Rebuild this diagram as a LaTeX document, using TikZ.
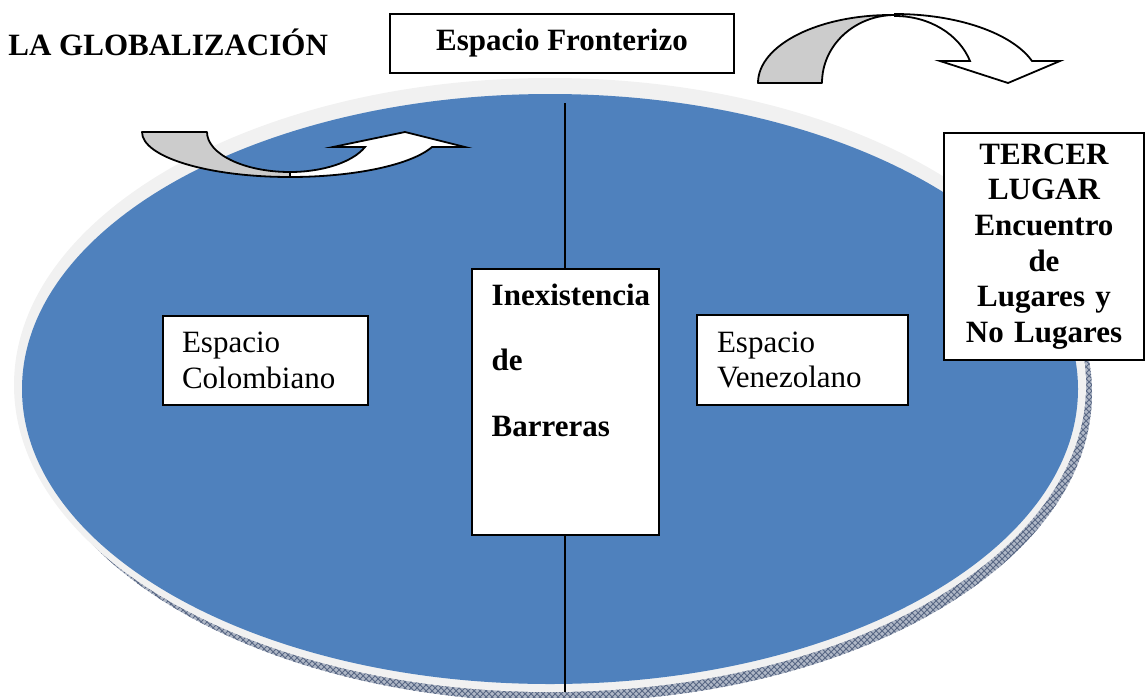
\documentclass[tikz,border=0pt]{standalone}
\usepackage{fontspec}
\setmainfont{Liberation Serif}
\usetikzlibrary{patterns}
\definecolor{discblue}{RGB}{79,129,189}
\definecolor{rimgray}{RGB}{241,241,241}
\definecolor{shadowgray}{RGB}{175,183,198}
\definecolor{hatchgray}{RGB}{88,103,132}
\definecolor{backgray}{RGB}{204,204,204}

\begin{document}
\begin{tikzpicture}[x=0.5pt, y=-0.5pt,
		box/.style={draw, line width=1pt, fill=white, inner sep=0pt},
		plain/.style={font=\fontsize{15.5}{17.8}\selectfont},
		bold/.style={font=\fontsize{15.5}{17.8}\selectfont\bfseries},
		bandback/.style={draw, line width=0.9pt, fill=backgray, line join=round},
		bandfront/.style={draw, line width=0.9pt, fill=white}]
		\useasboundingbox (0,0) rectangle (1146,697);
		% Draw disc.
		\fill[shadowgray] (558,393) ellipse [x radius=534, y radius=309];
		\fill[pattern=crosshatch, pattern color=hatchgray] (558,393) ellipse [x radius=534, y radius=309];
		\fill[rimgray] (550,385) ellipse [x radius=536, y radius=307];
		\fill[discblue] (550,389) ellipse [x radius=528, y radius=295];
		
		% Draw curved arrows.
		\draw[bandback] (142,132) -- (207,132) .. controls (207,154) and (244,172) .. (290,172) -- (290,177) .. controls (208,177) and (142,157) .. (142,132) -- cycle;
		\draw[bandfront] (290,177) .. controls (354,177) and (411,165) .. (432,147) -- (465,147) -- (405,132) -- (333,147) -- (365,147) .. controls (353,162) and (323,172) .. (290,172) -- cycle;
		\draw[bandback] (758,83) -- (822,83) .. controls (822,45) and (855,15) .. (895,15) .. controls (819,14) and (758,45) .. (758,83) -- cycle;
		\draw[bandfront] (895,14) .. controls (957,14) and (1012,33) .. (1032,61) -- (1060,61) -- (1008,83) -- (940,61) -- (970,61) .. controls (959,34) and (929,16) .. (895,16) -- cycle;
		
		% Draw border line.
		\coordinate (top) at (565,103);		\coordinate (bottom) at (565,692);
		\draw[line width=1pt] (top) -- (bottom);
		
		% Draw boxes.
		\node[bold, anchor=base west, inner sep=0pt] (titulo) at (8,55) {LA GLOBALIZACIÓN};
		\node[box, bold, minimum width=172pt, minimum height=29.5pt] (fronterizo) at (562,43.5) {Espacio Fronterizo};
		\node[box, plain, align=left, text width=83.5pt, inner xsep=9.65pt, minimum height=44.5pt] (colombiano) at (265.5,360.5) {Espacio\\Colombiano};
		\node[box, plain, align=left, text width=85.8pt, inner xsep=9.85pt, minimum height=45pt] (venezolano) at (802.8,360) {Espacio\\Venezolano};
		\node[box, bold, inner xsep=10pt] (barreras) at (565.35,402.15) {\parbox[c][132.85pt][t]{73.65pt}{\fontsize{15.5}{32.75}\selectfont\vspace*{7.3pt}Inexistencia\\de\\Barreras}};
		\node[box, bold, align=center, text width=90pt, inner xsep=5pt, inner ysep=5.4pt] (tercer) at (1044,246.5) {TERCER\\LUGAR\\Encuentro\\de\\Lugares y\\No Lugares};
	\end{tikzpicture}
\end{document}
